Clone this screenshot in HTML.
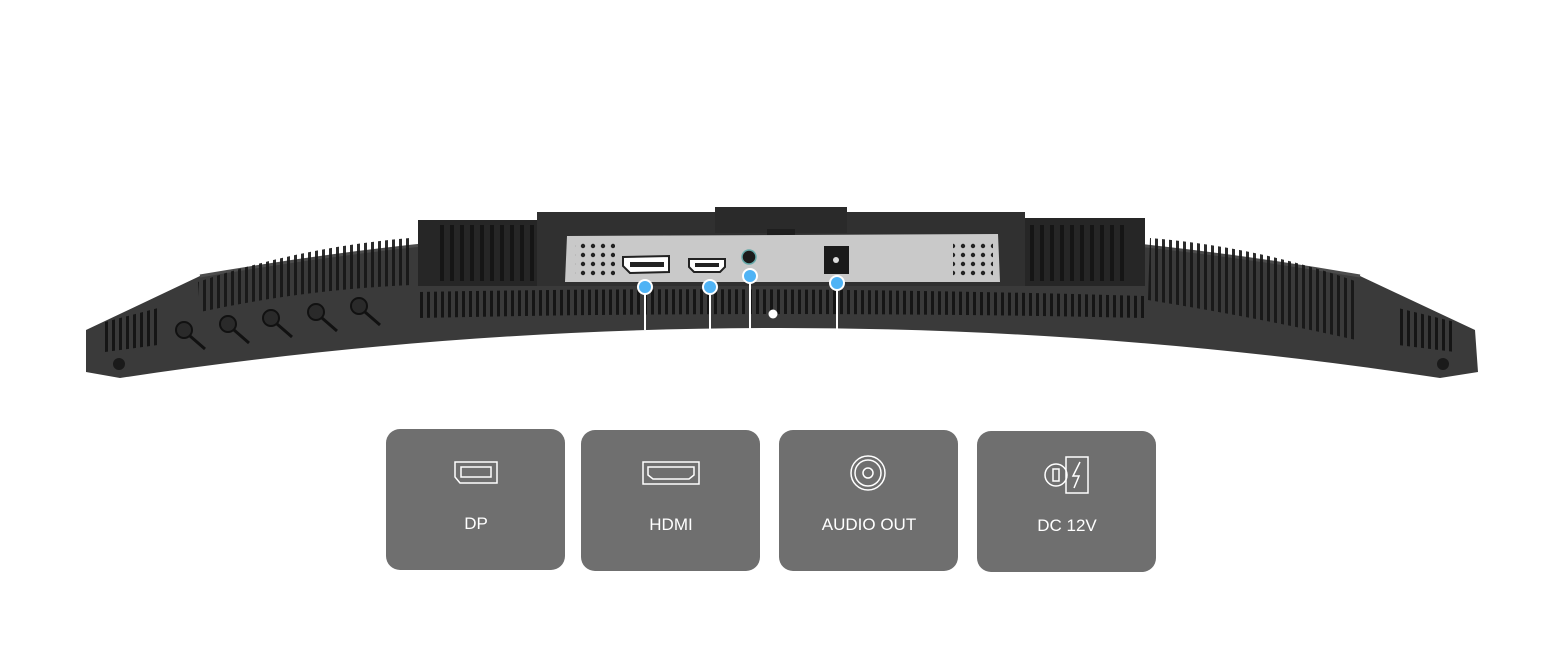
<!DOCTYPE html>
<html><head><style>
html,body{margin:0;padding:0;background:#fff;width:1562px;height:658px;overflow:hidden}
svg{display:block}
.t{font-family:"Liberation Sans",sans-serif;font-size:17px;fill:#fff;text-anchor:middle}
</style></head><body>
<svg width="1562" height="658" viewBox="0 0 1562 658" xmlns="http://www.w3.org/2000/svg">
<defs>
<pattern id="sl" width="7" height="60" patternUnits="userSpaceOnUse"><rect x="0" y="0" width="3" height="60" fill="#151515"/></pattern>
<pattern id="sl2" width="10" height="80" patternUnits="userSpaceOnUse"><rect x="0" y="0" width="4" height="80" fill="#151515"/></pattern>
<pattern id="dots" width="10" height="9" patternUnits="userSpaceOnUse"><circle cx="3" cy="3" r="2.2" fill="#222"/></pattern>
</defs>
<!-- monitor body -->
<path d="M86,330 L200,276 Q780,176 1360,276 L1475,330 L1478,372 L1440,378 Q780,278 120,378 L86,372 Z" fill="#3a3a3a"/>
<path d="M200,276 Q780,176 1360,276" fill="none" stroke="#4c4c4c" stroke-width="3"/>
<!-- left side vents -->
<path d="M198,282 Q300,247 410,238 L412,285 Q300,290 200,312 Z" fill="url(#sl)" opacity="0.9"/>
<path d="M105,322 L158,308 L158,345 L105,352 Z" fill="url(#sl)"/>
<!-- right side vents -->
<path d="M1150,238 Q1260,247 1358,282 L1356,340 Q1260,318 1148,300 Z" fill="url(#sl)" opacity="0.9"/>
<path d="M1398,308 L1455,322 L1455,352 L1398,345 Z" fill="url(#sl)"/>
<!-- recessed center -->
<rect x="418" y="220" width="120" height="66" fill="#262626"/>
<rect x="440" y="225" width="96" height="56" fill="url(#sl2)"/>
<rect x="1025" y="218" width="120" height="68" fill="#262626"/>
<rect x="1030" y="225" width="98" height="56" fill="url(#sl2)"/>
<rect x="537" y="212" width="488" height="74" fill="#303030"/>
<rect x="715" y="207" width="132" height="26" fill="#2a2a2a"/>
<rect x="767" y="229" width="28" height="15" fill="#1e1e1e"/>
<!-- silver panel -->
<path d="M567,236 L998,234 L1000,282 L565,282 Z" fill="#c9c9c9"/>
<rect x="575" y="242" width="40" height="36" fill="url(#dots)"/>
<rect x="953" y="242" width="40" height="36" fill="url(#dots)"/>
<path d="M623,257 L669,256 L669,272 L630,273 L623,266 Z" fill="#fff" stroke="#222" stroke-width="2"/>
<rect x="630" y="262" width="34" height="5" fill="#222"/>
<path d="M689,259 L725,259 L725,267 L720,272 L694,272 L689,267 Z" fill="#fff" stroke="#222" stroke-width="2"/>
<rect x="695" y="263" width="24" height="4" fill="#222"/>
<circle cx="749" cy="257" r="7" fill="#1b1b1b" stroke="#6aa" stroke-width="1.5"/>
<rect x="824" y="246" width="25" height="28" fill="#1a1a1a"/>
<circle cx="836" cy="260" r="3" fill="#ddd"/>
<!-- lower vent row -->
<path d="M418,292 Q780,285 1145,296 L1145,318 Q780,310 418,318 Z" fill="url(#sl)"/>
<circle cx="773" cy="314" r="4.5" fill="#fff"/>
<!-- buttons -->
<g fill="#2a2a2a" stroke="#111" stroke-width="2">
<circle cx="184" cy="330" r="8"/><circle cx="228" cy="324" r="8"/><circle cx="271" cy="318" r="8"/><circle cx="316" cy="312" r="8"/><circle cx="359" cy="306" r="8"/>
</g>
<g stroke="#111" stroke-width="3">
<line x1="190" y1="336" x2="205" y2="349"/><line x1="234" y1="330" x2="249" y2="343"/><line x1="277" y1="324" x2="292" y2="337"/><line x1="322" y1="318" x2="337" y2="331"/><line x1="365" y1="312" x2="380" y2="325"/>
</g>
<circle cx="119" cy="364" r="6" fill="#1a1a1a"/><circle cx="1443" cy="364" r="6" fill="#1a1a1a"/>
<!-- connectors -->
<g stroke="#fff" stroke-width="2">
<line x1="645" y1="287" x2="645" y2="330"/><line x1="710" y1="287" x2="710" y2="330"/><line x1="750" y1="276" x2="750" y2="330"/><line x1="837" y1="283" x2="837" y2="330"/>
</g>
<g fill="#4fb3f5" stroke="#fff" stroke-width="2">
<circle cx="645" cy="287" r="7"/><circle cx="710" cy="287" r="7"/><circle cx="750" cy="276" r="7"/><circle cx="837" cy="283" r="7"/>
</g>
<!-- cards -->
<g fill="#6f6f6f">
<rect x="386" y="429" width="179" height="141" rx="14"/>
<rect x="581" y="430" width="179" height="141" rx="14"/>
<rect x="779" y="430" width="179" height="141" rx="14"/>
<rect x="977" y="431" width="179" height="141" rx="14"/>
</g>
<g fill="none" stroke="#fff" stroke-width="1.5">
<path d="M455,462 L497,462 L497,483 L460,483 L455,477 Z"/><rect x="461" y="467" width="30" height="10"/>
<rect x="643" y="462" width="56" height="22"/><path d="M648,467 L694,467 L694,475 L689,479 L653,479 L648,475 Z"/>
<circle cx="868" cy="473" r="17"/><circle cx="868" cy="473" r="13"/><circle cx="868" cy="473" r="5"/>
<circle cx="1056" cy="475" r="11"/><rect x="1053" y="469" width="6" height="12"/><rect x="1066" y="457" width="22" height="36"/><path d="M1080,462 L1073,476 L1079,476 L1074,488"/>
</g>
<text class="t" x="476" y="529">DP</text>
<text class="t" x="671" y="530">HDMI</text>
<text class="t" x="869" y="530">AUDIO OUT</text>
<text class="t" x="1067" y="531">DC 12V</text>
</svg>
</body></html>
